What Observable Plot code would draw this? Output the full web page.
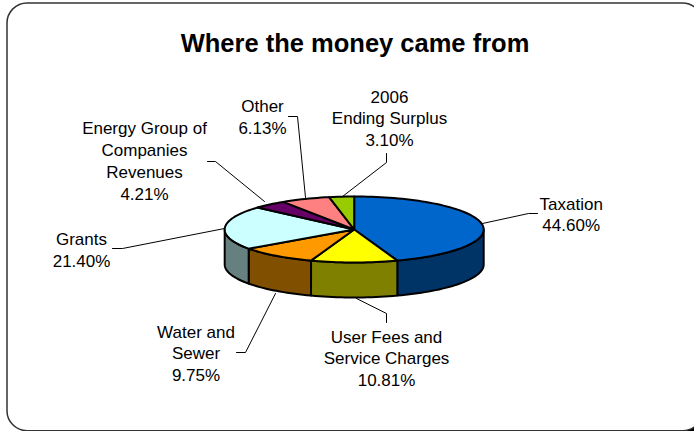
<!DOCTYPE html>
<html><head><meta charset="utf-8">
<style>html,body{margin:0;padding:0;background:#fff}svg{display:block}</style>
<script src="https://cdn.jsdelivr.net/npm/d3@7"></script>
<script src="https://cdn.jsdelivr.net/npm/@observablehq/plot@0.6"></script>
</head><body><div id="c"></div><script>
const names = ["Taxation","User Fees and\nService Charges","Water and\nSewer","Grants","Energy Group of\nCompanies\nRevenues","Other","2006\nEnding Surplus"];
const shares = [44.60,10.81,9.75,21.40,4.21,6.13,3.10];
const topColors = ["#0066cc","#ffff00","#ff9900","#ccffff","#660066","#ff8080","#99cc00"];
const sideColors = ["#003366","#808000","#804f00","#668080","#330033","#804040","#4d6600"];
const chartTitle = "Where the money came from";

// layout of the pie, in page pixels
const W=694,H=431,cx=353.7,cy=229,rx=129.5,ry=33,depth=35;
const deg=Math.PI/180;
const pt=(t,d=0)=>[cx+rx*Math.sin(t*deg), cy-ry*Math.cos(t*deg)+d];
let cum=0;
const slices=shares.map((s,i)=>{const a=cum*3.6;cum+=s;return {i,a,b:cum*3.6};});
const arc=(a,b,d)=>{const n=Math.max(2,Math.ceil((b-a)/2)),o=[];for(let k=0;k<=n;k++)o.push(pt(a+(b-a)*k/n,d));return o;};
const sideRows=[],topRows=[];
slices.forEach(s=>{
  const a=Math.max(s.a,90),b=Math.min(s.b,270);
  if(b>a){
    const pts=[...arc(a,b,0),...arc(a,b,depth).reverse()];
    pts.forEach(p=>sideRows.push({x:p[0],y:p[1],z:s.i,f:sideColors[s.i]}));
  }
  [[cx,cy],...arc(s.a,s.b,0)].forEach(p=>topRows.push({x:p[0],y:p[1],z:s.i,f:topColors[s.i]}));
});
// label placement and leader paths
const labelPos=[[570.7,213],[386,357],[195.5,352],[81,248.5],[144,159.5],[262,115.5],[389,117]];
const leaderPaths=[
  [[482,223],[528,213],[537,213]],
  [[356,298],[386,313],[386,322]],
  [[275,293],[245,352],[236,352]],
  [[224,228],[122,248],[112,248]],
  [[264,201],[215,161],[207,161]],
  [[305,197],[297,116],[288,116]],
  [[342,196],[386,162],[386,153]]
];
const leaders=leaderPaths.flatMap((p,i)=>p.map(q=>({x:q[0],y:q[1],z:i})));
const labels=names.map((n,i)=>({t:n+"\n"+shares[i].toFixed(2)+"%",x:labelPos[i][0],y:labelPos[i][1]}));

const chart=Plot.plot({
  width:W,height:H,margin:0,
  x:{domain:[0,W],range:[0,W],axis:null},
  y:{domain:[0,H],range:[0,H],axis:null},
  color:{type:"identity"},
  style:{background:"#fff"},
  marks:[
    Plot.rect([0],{x1:()=>670,x2:()=>694,y1:()=>405,y2:()=>431,fill:()=>"#000"}),
    Plot.frame({fill:"#fff",stroke:"#333",strokeWidth:1.5,rx:20,insetLeft:6.5,insetTop:2.5,insetRight:-8,insetBottom:0.8}),
    Plot.line(leaders,{x:"x",y:"y",z:"z",stroke:"#000",strokeWidth:1}),
    Plot.line(sideRows,{x:"x",y:"y",z:"z",fill:"f",stroke:"#000",strokeWidth:2,curve:"linear-closed",strokeLinejoin:"round"}),
    Plot.line(topRows,{x:"x",y:"y",z:"z",fill:"f",stroke:"#000",strokeWidth:2,curve:"linear-closed",strokeLinejoin:"round"}),
    Plot.text(labels,{x:"x",y:"y",text:"t",fontSize:17,fontFamily:"Liberation Sans",fill:"#000",lineHeight:1.28,lineAnchor:"middle"}),
    Plot.text([chartTitle],{x:()=>354.5,y:()=>43.5,text:d=>d,fontSize:25.5,fontWeight:"bold",fontFamily:"Liberation Sans",fill:"#000"})
  ]
});
document.getElementById("c").append(chart);
</script></body></html>
